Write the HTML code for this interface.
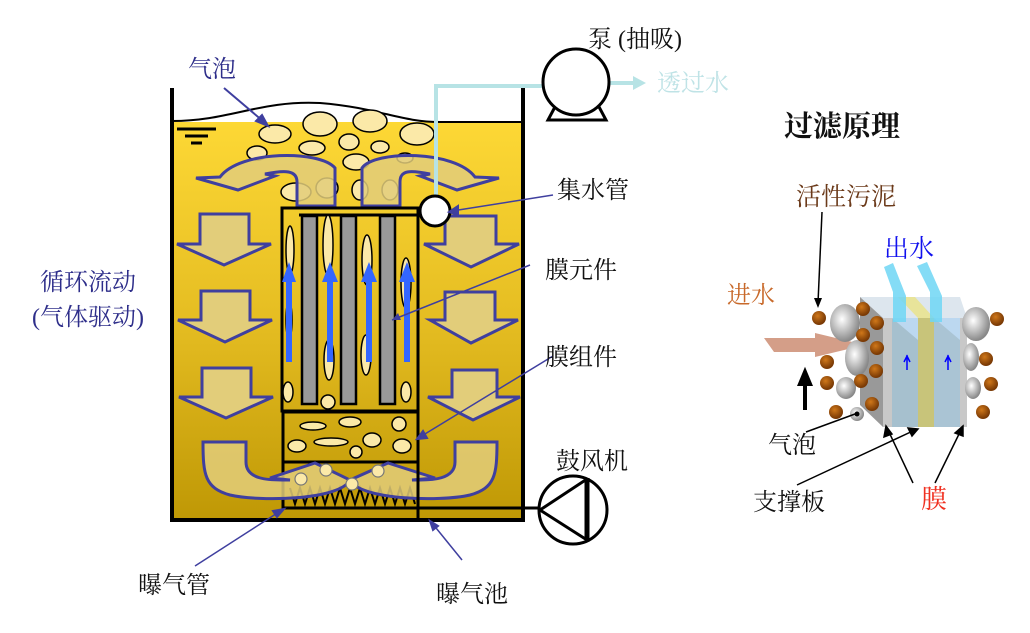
<!DOCTYPE html>
<html><head><meta charset="utf-8"><style>
html,body{margin:0;padding:0;background:#fff;width:1030px;height:633px;overflow:hidden}
text{font-family:"Liberation Serif","Noto Serif CJK SC",serif}
</style></head><body>
<svg width="1030" height="633" viewBox="0 0 1030 633" xmlns="http://www.w3.org/2000/svg">
<defs>
<linearGradient id="liq" x1="0" y1="0" x2="0" y2="1">
<stop offset="0" stop-color="#fdd835"/><stop offset="0.5" stop-color="#e5bd22"/><stop offset="1" stop-color="#bf9805"/>
</linearGradient>
<radialGradient id="gb" cx="0.4" cy="0.4" r="0.6"><stop offset="0" stop-color="#fff"/><stop offset="1" stop-color="#888"/></radialGradient>
<radialGradient id="bb" cx="0.4" cy="0.35" r="0.6"><stop offset="0" stop-color="#d0781a"/><stop offset="1" stop-color="#7a3a05"/></radialGradient>
</defs>
<!-- liquid -->
<rect x="172" y="122" width="351" height="398" fill="url(#liq)"/>
<path d="M172 121 C230 121 260 100 320 103 C380 108 400 122 440 122 L523 122" fill="none" stroke="#000" stroke-width="2"/>
<!-- tank walls -->
<path d="M172 88 V520 H523 V88" fill="none" stroke="#000" stroke-width="4"/>
<!-- water level symbol -->
<path d="M177 129 H216 M185 136 H208 M191 143 H202" stroke="#000" stroke-width="3"/>
<!-- bubbles top -->
<g fill="#fbe9a8" stroke="#000" stroke-width="1.5">
<ellipse cx="275" cy="134" rx="16" ry="9"/><ellipse cx="320" cy="124" rx="17" ry="12"/><ellipse cx="370" cy="121" rx="17" ry="11"/><ellipse cx="417" cy="134" rx="17" ry="11"/>
<ellipse cx="312" cy="148" rx="13" ry="7"/><ellipse cx="349" cy="142" rx="10" ry="8"/><ellipse cx="380" cy="147" rx="9" ry="6"/>
<ellipse cx="257" cy="153" rx="10" ry="7"/><ellipse cx="356" cy="162" rx="13" ry="8"/><ellipse cx="405" cy="158" rx="8" ry="5"/>
<ellipse cx="296" cy="192" rx="15" ry="9"/><ellipse cx="327" cy="188" rx="11" ry="10"/><ellipse cx="360" cy="190" rx="8" ry="10"/><ellipse cx="390" cy="190" rx="8" ry="10"/>
</g>
<!-- top curved arrows -->
<g fill="#e2cd7a" fill-opacity="0.85" stroke="#3f3f9f" stroke-width="3" stroke-linejoin="miter">
<path d="M297 206 V182 C297 170 285 170 265 174 L275 176 L238 190 L196 178 L220 177 C240 150 320 150 335 168 V206 Z"/>
<path d="M362 206 V168 C375 150 455 150 475 177 L499 178 L457 190 L420 176 L430 174 C410 170 400 170 400 182 V206 Z"/>
</g>
<!-- down arrows -->
<g fill="#e2cd7a" stroke="#3f3f9f" stroke-width="3">
<path d="M200 214 H249 V244 H271 L224 265 L177 244 H200 Z"/>
<path d="M201 291 H250 V320 H272 L225 342 L178 320 H201 Z"/>
<path d="M202 368 H251 V397 H273 L226 418 L179 397 H202 Z"/>
<path d="M445 216 H496 V244 H519 L471 267 L424 244 H445 Z"/>
<path d="M445 292 H495 V320 H518 L471 343 L430 320 H445 Z"/>
<path d="M452 370 H497 V397 H520 L473 420 L428 397 H452 Z"/>
</g>
<!-- module -->
<rect x="282" y="208" width="136" height="203" fill="none" stroke="#000" stroke-width="3"/>
<line x1="299" y1="215" x2="420" y2="215" stroke="#000" stroke-width="3"/>
<g fill="#fbe9a8" stroke="#000" stroke-width="1.5">
<ellipse cx="290" cy="250" rx="4" ry="24"/><ellipse cx="328" cy="245" rx="5" ry="30"/><ellipse cx="367" cy="260" rx="5" ry="25"/><ellipse cx="406" cy="283" rx="5" ry="25"/>
<ellipse cx="289" cy="320" rx="3" ry="19"/><ellipse cx="329" cy="360" rx="5" ry="20"/><ellipse cx="366" cy="355" rx="5" ry="20"/><ellipse cx="288" cy="392" rx="5" ry="10"/><ellipse cx="328" cy="402" rx="7" ry="7"/><ellipse cx="406" cy="392" rx="5" ry="10"/>
</g>
<g fill="#999" stroke="#000" stroke-width="2.5">
<rect x="302" y="216" width="15" height="188"/><rect x="341" y="216" width="15" height="188"/><rect x="380" y="216" width="15" height="188"/>
</g>
<g fill="#3366ff">
<path d="M289 262 L296 282 H292 V362 H286 V282 H282 Z"/>
<path d="M330 262 L338 282 H333 V362 H327 V282 H322 Z"/>
<path d="M369 262 L377 282 H372 V362 H366 V282 H361 Z"/>
<path d="M407 262 L415 282 H410 V362 H404 V282 H399 Z"/>
</g>
<line x1="392" y1="320" x2="530" y2="265" stroke="#3f3f9f" stroke-width="1.5"/>
<path d="M392 320 L398 313 L401 320 Z" fill="#3f3f9f"/>
<rect x="283" y="412" width="135" height="50" fill="none" stroke="#000" stroke-width="3"/>
<g fill="#fbe9a8" stroke="#000" stroke-width="1.5">
<ellipse cx="313" cy="426" rx="13" ry="4"/><ellipse cx="350" cy="422" rx="11" ry="5"/><ellipse cx="399" cy="424" rx="7" ry="7"/>
<ellipse cx="297" cy="446" rx="9" ry="6"/><ellipse cx="331" cy="442" rx="17" ry="4"/><ellipse cx="372" cy="440" rx="9" ry="7"/><ellipse cx="356" cy="452" rx="6" ry="6"/><ellipse cx="402" cy="446" rx="9" ry="7"/>
</g>
<!-- bottom aerator -->
<rect x="283" y="462" width="135" height="46" fill="none" stroke="#000" stroke-width="3"/>
<path d="M290 488 l5 16 l5 -16 l5 16 l5 -16 l5 16 l5 -16 l5 16 l5 -16 l5 16 l5 -16 l5 16 l5 -16 l5 16 l5 -16 l5 16 l5 -16 l5 16 l5 -16 l5 16 l5 -16 l5 16 l5 -16 l5 16 l5 -16 l5 16" fill="none" stroke="#000" stroke-width="2"/>
<g fill="#e2cd7a" fill-opacity="0.85" stroke="#3f3f9f" stroke-width="3">
<path d="M203 442 H246 V462 C246 480 270 480 282 480 H290 L270 478 L315 463 L350 480 C340 500 260 502 230 495 C205 488 203 475 203 442 Z"/>
<path d="M497 442 H455 V462 C455 480 430 480 420 480 H412 L435 478 L388 463 L350 480 C360 500 440 502 470 495 C495 488 497 475 497 442 Z"/>
</g>
<g fill="#fbe9a8" stroke="#777" stroke-width="1.2"><circle cx="301" cy="479" r="6"/><circle cx="326" cy="470" r="6"/><circle cx="378" cy="471" r="6"/><circle cx="352" cy="484" r="6"/></g>
<line x1="283" y1="508" x2="540" y2="508" stroke="#000" stroke-width="3"/>
<line x1="418" y1="462" x2="418" y2="520" stroke="#000" stroke-width="3"/>
<!-- collector & pipe -->
<path d="M436 195 V86 H545" fill="none" stroke="#b7e3e5" stroke-width="4"/>
<circle cx="435" cy="211" r="15" fill="#fff" stroke="#000" stroke-width="3"/>
<path d="M609 83 H635" stroke="#b7e3e5" stroke-width="4"/>
<path d="M633 76 L646 83 L633 90 Z" fill="#b7e3e5"/>
<!-- pump -->
<path d="M556 105 L548 120 H606 L598 105" fill="none" stroke="#000" stroke-width="3"/>
<circle cx="576" cy="82" r="33" fill="#fff" stroke="#000" stroke-width="3"/>
<!-- blower -->
<circle cx="573" cy="510" r="34" fill="#fff" stroke="#000" stroke-width="3"/>
<path d="M540 510 L587 479 M540 510 L587 540" stroke="#000" stroke-width="3"/>
<line x1="587" y1="478" x2="587" y2="540" stroke="#000" stroke-width="5"/>
<!-- label leaders -->
<g stroke="#3f3f9f" stroke-width="2" fill="#3f3f9f">
<line x1="224" y1="88" x2="264" y2="122"/><path d="M268 126 L256 121 L262 115 Z"/>
<line x1="553" y1="195" x2="452" y2="211" stroke-width="1.5"/><path d="M449 212 L458 206 L458 215 Z"/>
<line x1="553" y1="356" x2="420" y2="437" stroke-width="1.5"/><path d="M417 439 L423 431 L427 438 Z"/>
<line x1="195" y1="566" x2="282" y2="510" stroke-width="1.5"/><path d="M284 509 L277 517 L273 511 Z"/>
<line x1="462" y1="560" x2="432" y2="523" stroke-width="1.5"/><path d="M430 521 L438 526 L433 530 Z"/>
</g>
<!-- left labels -->
<g font-size="24" fill="#2e2e8a">
<text x="188" y="77">气泡</text>
<text x="40" y="290">循环流动</text>
<text x="32" y="325">(气体驱动)</text>
</g>
<g font-size="24" fill="#111">
<text x="588" y="47">泵 (抽吸)</text>
<text x="557" y="198">集水管</text>
<text x="545" y="278">膜元件</text>
<text x="545" y="365">膜组件</text>
<text x="556" y="469">鼓风机</text>
<text x="138" y="593">曝气管</text>
<text x="436" y="602">曝气池</text>
</g>
<text x="657" y="91" font-size="24" fill="#bfe3e6">透过水</text>
<!-- right diagram -->
<text x="784" y="136" font-size="29" font-weight="bold" fill="#111">过滤原理</text>
<text x="796" y="205" font-size="25" fill="#6b3a1a">活性污泥</text>
<text x="884" y="257" font-size="25" fill="#1010ee">出水</text>
<text x="727" y="303" font-size="24" fill="#c8692a">进水</text>
<line x1="822" y1="212" x2="818" y2="303" stroke="#000" stroke-width="1.5"/><path d="M818 308 L814 298 L822 298 Z"/>
<!-- plate -->
<path d="M860 297 H960 L967 318 H883 Z" fill="#dde6ee"/>
<path d="M860 297 L883 318 V427 L860 405 Z" fill="#999"/>
<rect x="883" y="318" width="9" height="109" fill="#c8c8c8"/>
<rect x="892" y="318" width="26" height="109" fill="#bcd8f0"/>
<path d="M892 318 L918 340 V427 H892 Z" fill="#97b0b8" opacity="0.6"/>
<rect x="918" y="318" width="16" height="109" fill="#c8c47a"/>
<path d="M898 297 H915 L934 318 H918 Z" fill="#e8e49a"/>
<rect x="934" y="318" width="26" height="109" fill="#bcd8f0"/>
<path d="M934 318 L960 340 V427 H934 Z" fill="#97b0b8" opacity="0.5"/>
<rect x="960" y="318" width="7" height="109" fill="#c8c8c8"/>
<path d="M884 267 L893 263 L906 296 V322 H893 V292 Z" fill="#6ed6f4" opacity="0.85"/>
<path d="M917 266 L927 262 L942 296 V322 H930 V292 Z" fill="#6ed6f4" opacity="0.85"/>
<path d="M907 355 V370 M904 362 L907 356 L910 362" stroke="#00f" stroke-width="1.5" fill="none"/>
<path d="M948 355 V370 M945 362 L948 356 L951 362" stroke="#00f" stroke-width="1.5" fill="none"/>
<path d="M764 338 H815 L815 333 L865 345 L815 357 L815 352 H774 Z" fill="#c9866a" opacity="0.8"/>
<g fill="url(#gb)"><ellipse cx="845" cy="323" rx="15" ry="19"/><ellipse cx="857" cy="358" rx="12" ry="18"/><ellipse cx="846" cy="388" rx="10" ry="11"/><ellipse cx="976" cy="324" rx="14" ry="17"/><ellipse cx="971" cy="357" rx="8" ry="14"/><ellipse cx="973" cy="388" rx="8" ry="11"/><circle cx="857" cy="414" r="7"/></g>
<circle cx="857" cy="414" r="2.5" fill="#000"/>
<g fill="url(#bb)">
<circle cx="819" cy="318" r="7"/><circle cx="863" cy="309" r="7"/><circle cx="877" cy="323" r="7"/><circle cx="863" cy="335" r="7"/><circle cx="877" cy="348" r="7"/>
<circle cx="827" cy="362" r="7"/><circle cx="876" cy="371" r="7"/><circle cx="861" cy="381" r="7"/><circle cx="827" cy="383" r="7"/><circle cx="872" cy="404" r="7"/><circle cx="836" cy="412" r="7"/>
<circle cx="997" cy="319" r="7"/><circle cx="986" cy="359" r="7"/><circle cx="991" cy="384" r="7"/><circle cx="983" cy="412" r="7"/>
</g>
<path d="M805 410 V380 M800 384 L805 372 L810 384 Z" stroke="#000" stroke-width="4" fill="#000"/>
<g stroke="#000" stroke-width="1.5" fill="#000">
<line x1="806" y1="432" x2="855" y2="414"/>
<line x1="797" y1="485" x2="915" y2="430"/><path d="M918 429 L908 428 L912 436 Z"/>
<line x1="913" y1="483" x2="888" y2="430"/><path d="M886 426 L884 437 L892 434 Z"/>
<line x1="935" y1="483" x2="961" y2="430"/><path d="M963 426 L955 433 L963 436 Z"/>
</g>
<text x="768" y="453" font-size="24" fill="#111">气泡</text>
<text x="753" y="510" font-size="24" fill="#111">支撑板</text>
<text x="921" y="508" font-size="26" fill="#f03020">膜</text>
</svg>
</body></html>
